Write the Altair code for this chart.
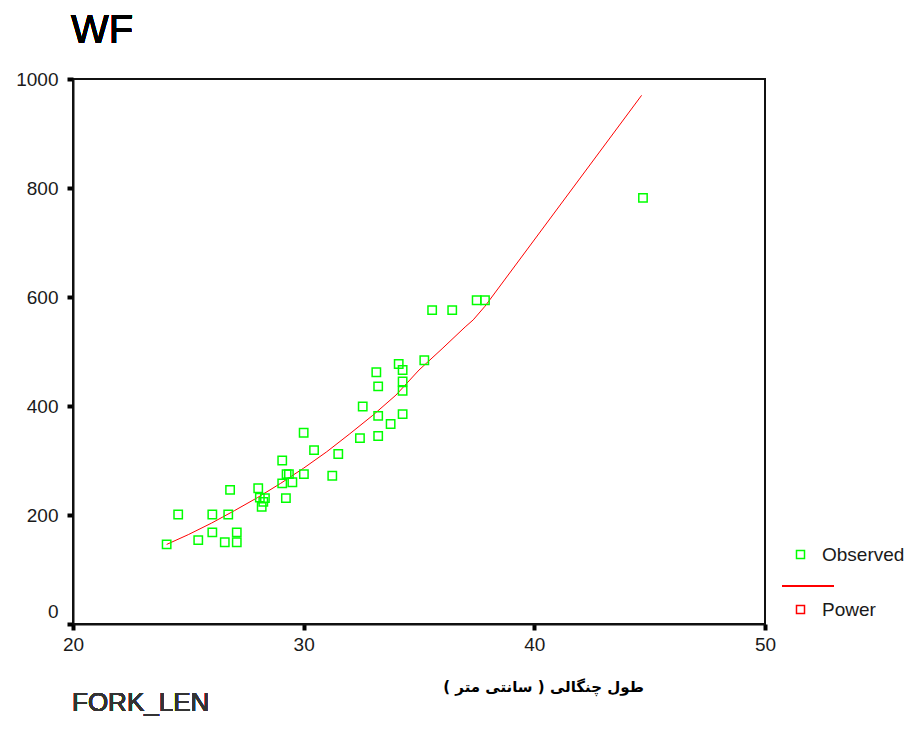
import altair as alt
import pandas as pd

# Observed data (FORK_LEN in cm, WF)
fork_len = [24.06, 24.56, 25.43, 26.04, 26.04, 26.58, 26.81, 26.73, 27.10, 27.10,
            28.03, 28.10, 28.32, 28.18, 28.25, 29.07, 29.26, 29.36, 29.07, 29.51,
            29.23, 30.00, 30.45, 30.01, 31.50, 31.24, 32.44, 33.23, 32.56, 33.23,
            33.77, 34.29, 33.23, 33.15, 34.12, 34.29, 34.29, 34.29, 35.23, 35.57,
            36.44, 37.50, 37.86, 44.71]
wf = [146, 201, 154, 201, 168, 150, 246, 201, 168, 150,
      249, 232, 231, 215, 224, 300, 275, 275, 258, 260,
      231, 351, 319, 275, 312, 272, 341, 345, 399, 382,
      367, 385, 436, 462, 477, 466, 445, 428, 484, 576,
      576, 594, 594, 782]

# Power fit curve
curve_x = [24.06, 25, 26, 27, 28, 29, 30, 31, 32, 33, 34, 35, 36, 37, 37.35, 37.86, 44.65]
curve_y = [146, 164, 185, 208, 232, 258, 286, 316, 349, 383, 420, 466, 505, 545, 558, 583, 970]

series_names = ["Observed", "Power"]
series_colors = ["#00ff00", "#ff0000"]

obs = pd.DataFrame({"FORK_LEN": fork_len, "WF": wf, "series": "Observed"})
fit = pd.DataFrame({"FORK_LEN": curve_x, "WF": curve_y, "series": "Power"})

FONT = "Liberation Sans"
TXT = "#1a1a1a"

color = alt.Color(
    "series:N",
    scale=alt.Scale(domain=series_names, range=series_colors),
    legend=alt.Legend(
        title=None, orient="none", legendX=718, legendY=466,
        symbolType="square", symbolSize=64, symbolStrokeWidth=1.5,
        symbolFillColor="transparent",
        labelFont=FONT, labelFontSize=19, labelColor=TXT,
        labelOffset=12, rowPadding=35, padding=0,
    ),
)

x = alt.X(
    "FORK_LEN:Q",
    scale=alt.Scale(domain=[20, 50], nice=False, zero=False),
    axis=alt.Axis(
        values=[20, 30, 40, 50], grid=False, labelFlush=False, format="d",
        domainColor="#111", domainWidth=2,
        tickColor="#000", tickWidth=4, tickSize=6,
        labelFont=FONT, labelFontSize=19, labelColor=TXT, labelPadding=5,
        title="طول چنگالی ( سانتی متر )\u200f",
        titleFont="DejaVu Sans", titleFontSize=15, titleFontWeight="bold",
        titleColor="#000", titleX=470, titleY=62, titleAlign="center",
        titleBaseline="middle",
    ),
)

y = alt.Y(
    "WF:Q",
    scale=alt.Scale(domain=[0, 1000], nice=False),
    axis=alt.Axis(
        values=[0, 200, 400, 600, 800, 1000], grid=False, format="d",
        labelFlush=False,
        domainColor="#111", domainWidth=2,
        tickColor="#000", tickWidth=4, tickSize=6,
        labelFont=FONT, labelFontSize=19, labelColor=TXT, labelPadding=9,
        labelOffset={"condition": {"test": "datum.value === 0", "value": -13}, "value": 0},
        title=None,
    ),
)

points = alt.Chart(obs).mark_point(
    shape="square", filled=False, size=70, strokeWidth=1.5, opacity=1
).encode(x=x, y=y, color=color)

line = alt.Chart(fit).mark_line(strokeWidth=1).encode(
    x=x, y=y, color=color, order="FORK_LEN:Q"
)

legend_line = alt.Chart(fit).mark_rule(color="#ff0000", strokeWidth=1.5).encode(
    x=alt.value(709), x2=alt.value(761), y=alt.value(507)
)

xlabel = alt.Chart(fit).mark_text(
    align="left", baseline="alphabetic", font=FONT, fontSize=26, color="#333"
).encode(x=alt.value(-1), y=alt.value(632), text=alt.value("FORK_LEN"))

title = alt.Chart(fit).mark_text(
    align="left", baseline="alphabetic", font=FONT, fontSize=40, color="#000"
).encode(x=alt.value(-2), y=alt.value(-36), text=alt.value("WF"))

chart = alt.layer(line, points, legend_line, xlabel, title).properties(
    width=692, height=545,
    autosize=alt.AutoSizeParams(type="none"),
    padding={"left": 65, "top": 71, "right": 140, "bottom": 98},
).configure_view(stroke="#111", strokeWidth=2)

chart.save("out.html", embed_options={"renderer": "svg", "actions": False})
